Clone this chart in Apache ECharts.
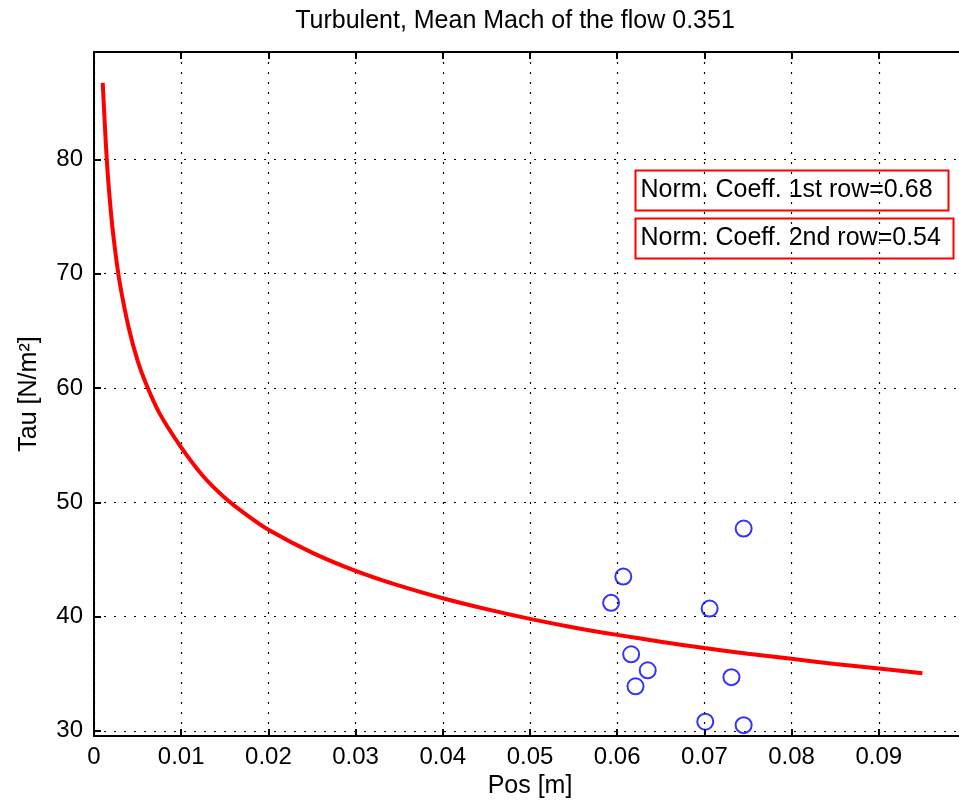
<!DOCTYPE html>
<html>
<head>
<meta charset="utf-8">
<script src="https://cdn.jsdelivr.net/npm/echarts@6/dist/echarts.min.js"></script>
<style>
html,body{margin:0;padding:0;background:#fff;overflow:hidden;width:959px;height:809px;}
#chart{width:968px;height:809px;}
</style>
</head>
<body>
<div id="chart"></div>
<script>
// ---- data ----
const titleText = 'Turbulent, Mean Mach of the flow 0.351';
const xName = 'Pos [m]';
const yName = 'Tau [N/m²]';
const boxTexts = ['Norm. Coeff. 1st row=0.68', 'Norm. Coeff. 2nd row=0.54'];

const curveX = [0.001,0.0015,0.002,0.0025,0.003,0.004,0.005,0.006,0.0075,0.01,0.0125,0.015,0.0175,0.02,0.025,0.03,0.035,0.04,0.045,0.05,0.055,0.06,0.065,0.07,0.075,0.08,0.085,0.09,0.095];
const curveY = [86.7,79.6,74.9,71.6,69.0,65.2,62.4,60.3,57.8,54.8,52.3,50.4,48.9,47.6,45.6,44.0,42.7,41.6,40.65,39.8,39.05,38.4,37.8,37.25,36.75,36.3,35.85,35.45,35.05];

const pointsX = [0.0745,0.0607,0.0593,0.0706,0.0616,0.0635,0.0621,0.0731,0.0701,0.0745];
const pointsY = [47.7,43.5,41.2,40.7,36.7,35.3,33.9,34.7,30.8,30.5];

const xTicks = {min: 0, max: 0.1, interval: 0.01};
const yTickValues = [30,40,50,60,70,80];
const yRange = {min: 29.55, max: 89.4};

// ---- chart ----
const FONT = "'Liberation Sans', Arial, sans-serif";
const chart = echarts.init(document.getElementById('chart'), null, {renderer: 'canvas'});

const gridLine = {show: true, lineStyle: {color: '#000', width: 1.2, type: [2, 8]}};

const option = {
  backgroundColor: '#fff',
  animation: false,
  title: {
    text: titleText,
    left: 510,
    textAlign: 'center',
    top: 4,
    textStyle: {fontFamily: FONT, fontSize: 25, fontWeight: 'normal', color: '#000'}
  },
  grid: {left: 94, right: 2, top: 52, bottom: 73, containLabel: false},
  xAxis: [{
    type: 'value',
    min: xTicks.min, max: xTicks.max, interval: xTicks.interval,
    name: xName, nameLocation: 'middle', nameGap: 36,
    nameTextStyle: {fontFamily: FONT, fontSize: 25, color: '#000'},
    axisLine: {show: true, onZero: false, lineStyle: {color: '#000', width: 2}},
    axisTick: {show: true, inside: true, length: 7, lineStyle: {color: '#000', width: 2}},
    axisLabel: {fontFamily: FONT, fontSize: 24, color: '#000', margin: 9, showMaxLabel: false},
    splitLine: gridLine
  }, {
    type: 'value', position: 'top',
    min: xTicks.min, max: xTicks.max, interval: xTicks.interval,
    axisLine: {show: true, onZero: false, lineStyle: {color: '#000', width: 2}},
    axisTick: {show: true, inside: true, length: 7, lineStyle: {color: '#000', width: 2}},
    axisLabel: {show: false},
    splitLine: {show: false}
  }],
  yAxis: [{
    type: 'value',
    min: yRange.min, max: yRange.max,
    name: yName, nameLocation: 'middle', nameGap: 52, nameRotate: 90,
    nameTextStyle: {fontFamily: FONT, fontSize: 25, color: '#000'},
    axisLine: {show: true, onZero: false, lineStyle: {color: '#000', width: 2}},
    axisTick: {show: true, inside: true, length: 7, lineStyle: {color: '#000', width: 2}, customValues: yTickValues},
    axisLabel: {fontFamily: FONT, fontSize: 24, color: '#000', margin: 11, customValues: yTickValues},
    splitLine: gridLine
  }],
  series: [{
    type: 'line',
    data: curveX.map((x, i) => [x, curveY[i]]),
    smooth: 0.3,
    symbol: 'none',
    lineStyle: {color: '#ff0000', width: 4},
    z: 3
  }, {
    type: 'scatter',
    data: pointsX.map((x, i) => [x, pointsY[i]]),
    symbol: 'circle',
    symbolSize: 16,
    itemStyle: {color: 'rgba(0,0,0,0)', borderColor: '#0000ff', borderWidth: 2},
    z: 4
  }],
  graphic: [{
    type: 'group', left: 633, top: 168,
    children: [
      {type: 'rect', shape: {x: 0, y: 0, width: 313, height: 40}, style: {fill: 'none', stroke: '#ff0000', lineWidth: 2}},
      {type: 'text', x: 5, y: 20, style: {text: boxTexts[0], fontFamily: FONT, fontSize: 25, fill: '#000', verticalAlign: 'middle'}}
    ]
  }, {
    type: 'group', left: 633, top: 216,
    children: [
      {type: 'rect', shape: {x: 0, y: 0, width: 318, height: 40}, style: {fill: 'none', stroke: '#ff0000', lineWidth: 2}},
      {type: 'text', x: 5, y: 20, style: {text: boxTexts[1], fontFamily: FONT, fontSize: 25, fill: '#000', verticalAlign: 'middle'}}
    ]
  }]
};
chart.setOption(option);
</script>
</body>
</html>
